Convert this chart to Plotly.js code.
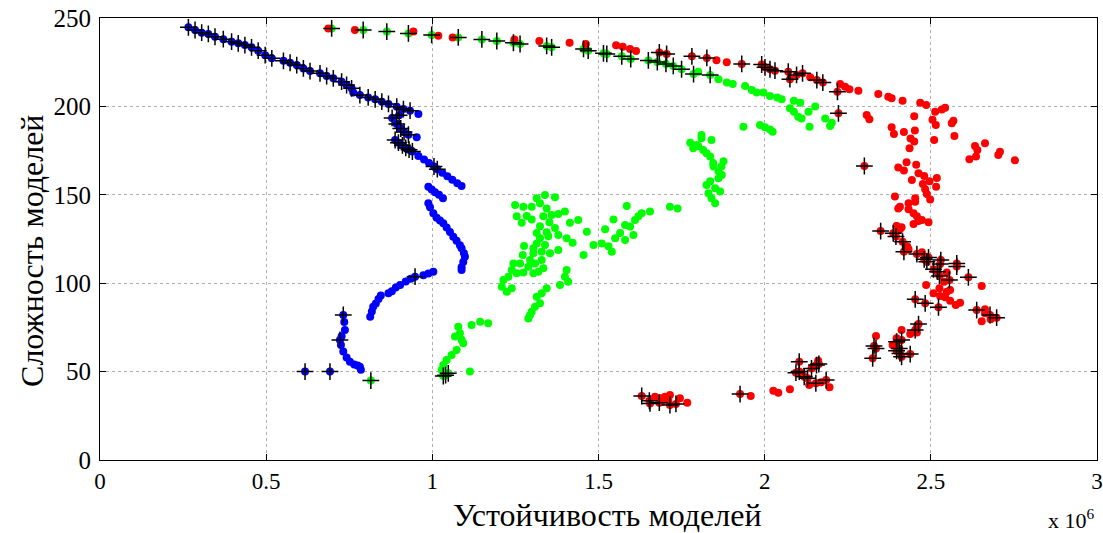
<!DOCTYPE html>
<html>
<head>
<meta charset="utf-8">
<script src="https://cdn.plot.ly/plotly-3.0.1.min.js"></script>
<style>html,body{margin:0;padding:0;background:#fff;}#chart{width:1103px;height:533px;}</style>
</head>
<body>
<div id="chart"></div>
<script>
// x values in units of 10^6
const blueX = [0.958,0.953,0.958,0.975,0.99,1.03,1.045,1.06,1.075,1.088,0.988,0.998,1.008,1.02,1.032,0.988,0.993,1.003,1.013,1.023,1.033,1.043,1.053,1.063,1.073,1.083,1.088,1.095,1.098,1.093,1.088,1.088,1.003,0.988,0.973,0.935,0.92,0.903,0.89,0.878,0.868,0.845,0.838,0.83,0.822,0.818,0.813,0.735,0.737,0.727,0.725,0.732,0.742,0.752,0.765,0.775,0.782,0.785,0.762];
const blueY = [195.7,182.5,172,170,168,162.5,160.5,158.5,156.5,155,154.6,153,151.5,150,148,145.2,143,139.5,137,135.5,133.9,131.5,129,126.3,124,121.5,119.7,117,115,112,109,107.5,106.5,105.5,104.5,102.5,101,99,97.5,95.5,94.3,93,91,88.5,86.7,84,81,78,73.5,70,65,61.3,58,55.6,54,53.5,52.8,51,207.8];
const blueFrontX = [0.266,0.286,0.306,0.326,0.346,0.371,0.396,0.416,0.436,0.456,0.476,0.497,0.517,0.552,0.572,0.592,0.612,0.632,0.662,0.682,0.702,0.727,0.742,0.757,0.782,0.807,0.828,0.848,0.868,0.893,0.913,0.933,0.879,0.9,0.893,0.905,0.915,0.928,0.888,0.898,0.91,0.92,0.93,0.94,1.005,1.015,0.948,0.732,0.722,0.617,0.692];
const blueFrontY = [244.7,243.2,241.7,241,239.4,238,236.6,235.7,234.7,233.4,231.5,229,227.2,225.8,224.7,223.4,221.5,220,218.7,217.2,215.9,214,212.1,210.2,206.4,205.1,204,202.7,201.4,199.8,198.5,197.6,193.5,195,190,187.5,185.5,184,181,179.5,178,176.5,175.5,174.5,166,164.5,103.7,82,67.9,50,50];

const greenX = [1.8,1.861,1.886,1.904,1.941,1.961,1.976,1.996,2.016,2.038,2.051,2.088,2.107,2.076,2.088,2.101,2.111,2.132,2.152,2.135,2.182,2.202,2.197,1.936,1.986,2.001,2.016,2.024,
 1.81,1.84,1.776,1.785,1.8,1.815,1.825,1.836,1.846,1.876,1.861,1.871,1.861,1.836,1.825,1.851,1.866,1.831,1.84,1.851,1.795,1.81,1.845,1.87,
 1.585,1.715,1.738,
 1.249,1.274,1.314,1.339,1.369,1.299,1.324,1.344,1.359,1.379,1.399,1.254,1.269,1.284,1.299,1.334,1.352,1.324,1.369,1.314,1.344,1.324,1.349,1.379,1.414,1.439,1.465,1.404,1.422,1.314,1.339,1.304,1.276,1.272,1.304,1.329,1.354,1.379,1.294,1.309,1.329,1.334,1.289,1.304,1.319,1.244,1.264,1.239,1.254,1.229,1.214,1.209,1.224,1.239,1.274,1.404,1.399,1.409,1.384,1.344,1.329,1.314,1.324,1.309,1.299,1.289,1.294,1.455,1.485,1.51,1.52,1.545,1.53,1.54,1.55,1.565,1.58,1.58,1.595,1.605,1.61,1.62,1.63,1.655,
 1.078,1.083,1.068,1.093,1.073,1.058,1.043,1.033,1.028,1.113,1.118,1.144,1.168,1.088];
const greenY = [219.6,215.4,213.5,212.7,211.6,209.3,207.8,207.8,205.9,205.1,204,203.2,202.1,198.9,197,194.2,193.2,197,200,188.5,193.2,190.8,188.9,188.5,189.5,188.2,187,185.7,
 183.8,181,179.5,176.3,177.6,175.3,173.5,171.6,166,169,163.3,161.2,159.3,157.6,155.5,153.7,151.9,150.9,148,145.2,178.2,182,168,166,
 143.7,143.3,142.3,
 144.2,143.3,148,149.9,148.6,143.3,145.2,142.3,138.6,139.2,140.5,137.9,134.2,138,136.1,137.9,134.5,132.2,131.2,128.4,128.8,125.4,126.6,127.3,134.2,135.7,129.1,125.4,122.9,122.5,121.6,119.7,121,115.9,116.9,117.8,116.9,118.8,113.1,111.2,113.1,108.4,109.3,105.6,106.5,111.2,111.2,107.5,105.6,103.7,101.8,98,95.2,97.1,106,107.5,103.7,100.8,99,97.1,94.3,92.4,88.6,86.7,83.9,80.1,82,115.9,121.6,122.5,130.5,136.1,120.9,117.8,125.4,128.4,124.5,132.9,132,127.3,135.7,137.9,139.5,140.5,
 75.4,71.7,69.8,66,62.2,59.4,56.6,53.7,50.9,50,76.4,78.2,77.3,68];
const greenFrontX = [0.697,0.792,0.863,0.928,0.998,1.078,1.149,1.194,1.244,1.264,1.344,1.359,1.455,1.469,1.515,1.525,1.57,1.597,1.65,1.677,1.703,1.725,1.75,1.786,1.836,0.815,1.033,1.048,1.04];
const greenFrontY = [244.1,243.2,242.3,241.3,240.4,239,237.9,237,236,235.3,234.2,233.4,232.5,231.5,230,229.7,228.3,226.8,226,225.1,224,222.9,221,218.3,217.8,44.9,47.5,49,48];

const redX = [0.687,0.767,0.943,1.018,1.061,1.247,1.322,1.413,1.462,1.553,1.573,1.595,1.613,1.855,1.886,2.137,2.227,2.242,2.255,2.282,2.342,2.372,2.382,2.415,2.468,2.486,2.513,2.533,2.543,2.307,2.315,2.45,2.505,2.515,2.563,2.568,2.382,2.389,2.419,2.452,2.439,2.45,2.436,2.51,2.571,2.633,2.64,2.663,2.636,2.616,2.703,2.708,2.753,2.427,2.456,2.402,2.419,2.463,2.48,2.496,2.518,2.443,2.476,2.516,2.483,2.488,2.392,2.453,2.453,2.498,2.433,2.407,2.402,2.433,2.448,2.458,2.473,2.448,2.493,2.397,2.407,2.397,2.412,2.463,2.429,2.433,2.473,2.488,2.548,2.54,2.653,2.486,2.526,2.548,2.558,2.508,2.528,2.543,2.558,2.588,2.575,2.663,2.663,2.653,2.68,2.458,2.412,2.438,2.458,2.335,2.397,2.385,
 1.67,1.685,1.7,1.715,1.71,1.745,1.767,1.69,1.958,2.026,2.041,2.076,2.111,2.146,2.161,2.134,2.195,2.17];
const redY = [244.1,243.2,242.3,240,239,237.9,237,236,235.3,234.6,233.7,232.4,231.4,226.1,225,216.5,212.7,211.1,209.7,208.9,207,205.5,204.6,203.2,202.1,200.8,197,198.3,199.2,195.1,192.7,194.4,192.5,189.5,190.4,191.9,188.2,184.4,185.5,186.3,181.9,180.1,176.3,181,183.3,177.6,175.3,179.1,171.6,170.1,172.5,174.4,169.5,168.4,167,165.4,163.7,162.2,160.7,157.6,159.5,158.4,156.1,154.6,153.1,150.5,149,148,146.1,147.4,145.2,143.3,142.3,141.8,139.5,137.8,135.7,133.5,134.5,132.2,130.5,132.4,131.6,135.2,120.8,119.2,117.5,115,106,100.8,98.4,99,97.1,95.2,96.1,94.3,92.8,92,90.1,89,87.7,85.2,83,78.5,79.6,75,73.5,71.3,72.1,70.1,68.8,65,
 35.8,34.9,35.8,36.8,33.9,34.9,32.4,33,36.2,39.2,38.1,40,49,52.8,56.1,42.4,41.1,44];
const redFrontX = [1.683,1.705,1.781,1.826,1.931,1.991,2.001,2.016,2.031,2.071,2.076,2.096,2.114,2.157,2.175,2.219,2.222,2.3,2.349,2.387,2.395,2.415,2.419,2.458,2.48,2.493,2.488,2.53,2.528,2.508,2.52,2.526,2.556,2.578,2.578,2.613,2.453,2.483,2.523,2.638,2.678,2.698,2.463,2.453,2.412,2.397,2.405,2.397,2.407,2.412,2.438,2.329,2.335,2.325,1.63,1.653,1.655,1.683,1.715,1.733,1.926,2.104,2.094,2.104,2.141,2.156,2.163,2.119,2.129,2.154,2.185];
const redFrontY = [230.5,229.7,228.3,227.4,224,223.7,222.1,221,220.2,219.6,215.4,217.8,218.7,214.9,213.5,208.3,196.1,166.3,129.5,128.2,126.4,123.5,117.8,116.5,113.5,114.6,112.2,113.1,110.9,107.9,106.5,104.1,101.8,111.2,109.4,103.3,90.9,88.6,86.4,84.8,82,80.5,76.9,73.5,67.9,66.9,63.1,61.8,60.3,58.4,59.9,64.5,63.1,57.5,36.2,33.5,32,32.4,31.1,31.7,37.3,55.6,49.4,50,51.8,53.7,54.3,47.1,46.2,43.4,45.2];

const xTicks = [0,0.5,1,1.5,2,2.5,3];
const xTickText = ['0','0.5','1','1.5','2','2.5','3'];
const yTicks = [0,50,100,150,200,250];
const yTickText = ['0','50','100','150','200','250'];
const xTitle = 'Устойчивость моделей';
const yTitle = 'Сложность моделей';
const xScaleNote = 'x 10<sup>6</sup>';

function dots(x, y, color) {
  return {x: x, y: y, type: 'scatter', mode: 'markers', hoverinfo: 'skip',
    marker: {color: color, size: 8, line: {width: 0}}};
}
function plus(x, y) {
  return {x: x, y: y, type: 'scatter', mode: 'markers', hoverinfo: 'skip',
    marker: {symbol: 'cross-thin', size: 12, color: '#000', line: {color: '#000', width: 1.5}}};
}
const traces = [
  dots(blueX.concat(blueFrontX), blueY.concat(blueFrontY), '#0000ff'),
  dots(greenX.concat(greenFrontX), greenY.concat(greenFrontY), '#00ff00'),
  dots(redX.concat(redFrontX), redY.concat(redFrontY), '#ff0000'),
  plus(blueFrontX, blueFrontY),
  plus(greenFrontX, greenFrontY),
  plus(redFrontX, redFrontY)
];
const serif = 'Liberation Serif';
const layout = {
  width: 1103, height: 533,
  margin: {l: 100, r: 6, t: 18, b: 73},
  paper_bgcolor: '#fff', plot_bgcolor: '#fff',
  showlegend: false,
  xaxis: {
    range: [0, 3], tickmode: 'array', tickvals: xTicks, ticktext: xTickText,
    tickfont: {family: serif, size: 23, color: '#000'}, ticklabeloverflow: 'allow',
    showline: true, linecolor: '#000', linewidth: 1, mirror: 'ticks',
    ticks: 'inside', ticklen: 6, tickcolor: '#000',
    showgrid: true, gridcolor: '#b0b0b0', griddash: 'dot', gridwidth: 1, zeroline: false
  },
  yaxis: {
    range: [0, 250], tickmode: 'array', tickvals: yTicks, ticktext: yTickText,
    tickfont: {family: serif, size: 25, color: '#000'}, ticklabeloverflow: 'allow',
    showline: true, linecolor: '#000', linewidth: 1, mirror: 'ticks',
    ticks: 'inside', ticklen: 6, tickcolor: '#000', ticklabelstandoff: 3,
    showgrid: true, gridcolor: '#b0b0b0', griddash: 'dot', gridwidth: 1, zeroline: false
  },
  annotations: [
    {text: xTitle, xref: 'paper', yref: 'paper', x: 0.5095, y: -0.124, xanchor: 'center', yanchor: 'middle',
     showarrow: false, font: {family: serif, size: 32, color: '#000'}},
    {text: yTitle, xref: 'paper', yref: 'paper', x: -0.0682, y: 0.473, xanchor: 'center', yanchor: 'middle', textangle: -90,
     showarrow: false, font: {family: serif, size: 32, color: '#000'}},
    {text: xScaleNote, xref: 'paper', yref: 'paper', x: 1.0, y: -0.098, xanchor: 'right', yanchor: 'top',
     showarrow: false, font: {family: serif, size: 22, color: '#000'}}
  ]
};
Plotly.newPlot('chart', traces, layout, {staticPlot: true, displayModeBar: false});
</script>
</body>
</html>
